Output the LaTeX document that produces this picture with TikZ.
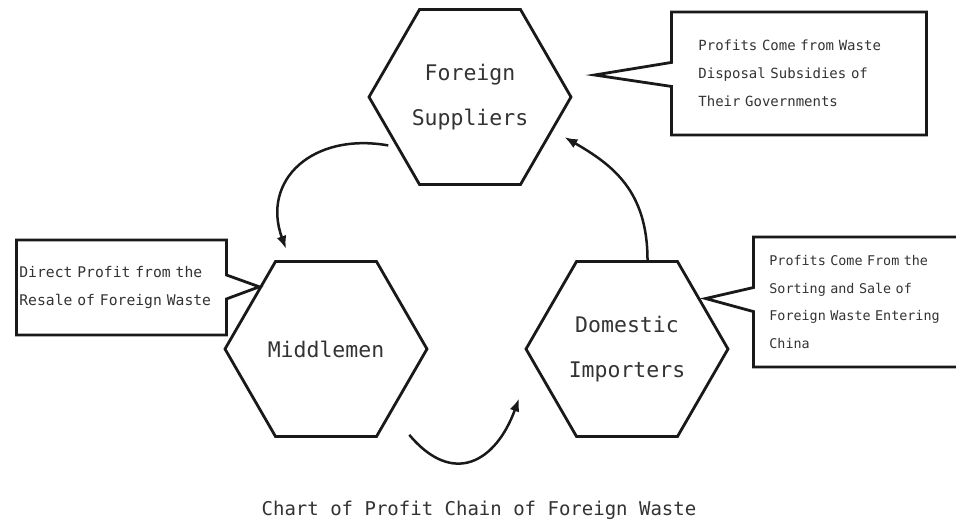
\documentclass[tikz,border=0pt]{standalone}
\usepackage{fontspec}
\setmonofont{DejaVu Sans Mono}
\usetikzlibrary{shapes.geometric,shapes.callouts,arrows.meta}

\begin{document}
\begin{tikzpicture}[x=1pt,y=-1pt,
  hexnode/.style={draw=black!90,line width=2.8pt,regular polygon,regular polygon sides=6,minimum size=202pt,inner sep=0pt,align=center,text=black!80,font=\ttfamily\fontsize{21.5}{45}\selectfont},
  callbox/.style={rectangle callout,draw=black!90,line width=2.8pt,anchor=west,align=left,text=black!80,callout pointer width=24pt,font=\ttfamily\fontsize{14}{28}\selectfont},
  flow/.style={line width=2.5pt,draw=black!90,-{Latex[length=13pt,width=10pt]}}]
\useasboundingbox (0,0) rectangle (956,520);
\clip (0,0) rectangle (956,520);
\fill[white] (0,0) rectangle (956,520);
% the three parties
\node[hexnode] (supplier) at (470,97) {Foreign\\Suppliers};
\node[hexnode] (middle) at (326,349) {Middlemen};
\node[hexnode] (importer) at (627,349) {Domestic\\Importers};
% notes on where the profit comes from
\node[callbox,inner xsep=27pt,text width=201pt,minimum height=123pt,callout absolute pointer={([shift={(22,-22)}]supplier.east)}] (supplier-note) at (670,73.5) {Profits Come from Waste\\Disposal Subsidies of\\Their Governments};
\node[callbox,font=\ttfamily\fontsize{14.7}{28}\selectfont,inner xsep=3pt,text width=204pt,minimum height=95pt,callout absolute pointer={(middle.137)}] (middle-note) at (15,287.5) {Direct Profit from the\\Resale of Foreign Waste};
\node[callbox,font=\ttfamily\fontsize{13.4}{27.5}\selectfont,inner xsep=16pt,text width=200pt,minimum height=130pt,callout absolute pointer={([shift={(4,-2)}]importer.33)}] (importer-note) at (752,302) {Profits Come From the\\Sorting and Sale of\\Foreign Waste Entering\\China};
% the chain
\draw[flow,shorten <=8pt,shorten >=12pt] (supplier.214) to[out=170,in=110,looseness=1.4] (middle.112);
\draw[flow] ([shift={(32,-3)}]middle.-60) to[out=-50,in=-110,looseness=1.5] ([shift={(-31,5)}]importer.210);
\draw[flow,shorten >=13pt] (importer.77) to[out=90,in=-30,looseness=1.1] (supplier.-22);
\node[font=\ttfamily\fontsize{19}{23}\selectfont,text=black!80] (caption) at (479,510) {Chart of Profit Chain of Foreign Waste};
\end{tikzpicture}
\end{document}
